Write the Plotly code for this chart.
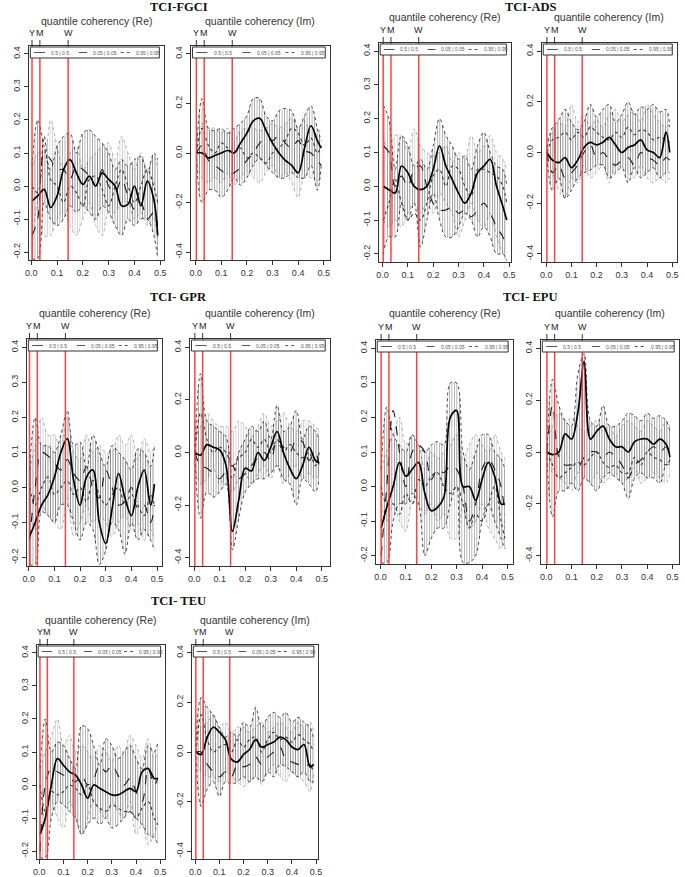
import plotly.graph_objects as go

W, H = 685, 877

# ---------------- data ----------------
freq = [0.003, 0.025, 0.05, 0.075, 0.1, 0.125, 0.15, 0.175, 0.2, 0.225, 0.25,
        0.275, 0.3, 0.325, 0.35, 0.375, 0.4, 0.425, 0.45, 0.475, 0.49]
period_freqs = [1 / 365, 1 / 30, 1 / 7]
period_labels = ["Y", "M", "W"]
quantile_labels = ["0.5 | 0.5", "0.05 | 0.05", "0.95 | 0.95"]
group_titles = ["TCI-FGCI", "TCI-ADS", "TCI- GPR", "TCI- EPU", "TCI- TEU"]
part_titles = ["quantile coherency (Re)", "quantile coherency (Im)"]
x_ticks = [0.0, 0.1, 0.2, 0.3, 0.4, 0.5]
x_ticktext = ["0.0", "0.1", "0.2", "0.3", "0.4", "0.5"]
re_ticks = [-0.2, -0.1, 0.0, 0.1, 0.2, 0.3, 0.4]
re_ticktext = ["-0.2", "-0.1", "0.0", "0.1", "0.2", "0.3", "0.4"]
im_ticks = [-0.4, -0.2, 0.0, 0.2, 0.4]
im_ticktext = ["-0.4", "-0.2", "0.0", "0.2", "0.4"]

# TCI-FGCI
fgci_re_q50 = [-0.045, -0.03, -0.01, -0.065, -0.03, 0.05, 0.08, 0.04, 0.005, 0.03, 0.0, 0.04, 0.02, 0.0, -0.06, -0.055, 0.0, -0.06, 0.015, -0.04, -0.15]
fgci_re_q05 = [-0.15, -0.1, 0.1, 0.08, 0.05, 0.05, 0.02, 0.06, 0.05, 0.03, 0.0, 0.05, 0.0, -0.02, 0.02, -0.03, -0.07, -0.05, -0.1, -0.08, -0.12]
fgci_re_q95 = [0.0, -0.02, 0.15, 0.02, 0.0, -0.05, 0.0, -0.02, -0.06, 0.02, 0.03, -0.01, -0.06, 0.0, 0.05, 0.0, -0.05, 0.0, 0.05, 0.0, -0.05]
fgci_re_dark_hi = [0.06, 0.2, 0.12, 0.05, 0.12, 0.15, 0.16, 0.1, 0.16, 0.17, 0.15, 0.13, 0.1, 0.05, 0.08, 0.06, 0.08, 0.09, 0.04, 0.1, 0.08]
fgci_re_dark_lo = [-0.22, -0.22, -0.05, -0.1, -0.12, -0.1, -0.06, -0.08, -0.06, -0.08, -0.1, -0.06, -0.08, -0.12, -0.15, -0.1, -0.12, -0.1, -0.1, -0.15, -0.22]
fgci_re_light_hi = [0.05, 0.1, 0.1, 0.2, 0.12, 0.05, 0.1, 0.12, 0.05, 0.08, 0.1, 0.12, 0.13, 0.08, 0.15, 0.1, 0.05, 0.1, 0.05, 0.09, 0.05]
fgci_re_light_lo = [-0.2, -0.05, -0.15, -0.15, -0.1, -0.08, -0.12, -0.15, -0.1, -0.05, -0.12, -0.15, -0.08, -0.08, -0.05, -0.05, -0.1, -0.08, -0.12, -0.1, -0.2]

fgci_im_q50 = [0.0, 0.0, -0.02, -0.01, 0.0, 0.01, 0.0, 0.04, 0.08, 0.13, 0.14, 0.09, 0.04, 0.0, -0.03, -0.05, -0.08, 0.02, 0.11, 0.05, 0.02]
fgci_im_q05 = [0.0, 0.03, -0.03, -0.05, -0.07, -0.09, -0.08, -0.06, -0.03, 0.0, 0.04, 0.06, 0.05, 0.07, 0.04, 0.02, 0.05, 0.01, 0.0, -0.03, -0.05]
fgci_im_q95 = [0.0, 0.1, 0.03, 0.0, 0.04, 0.02, 0.0, 0.02, -0.02, 0.0, -0.02, -0.04, 0.0, 0.02, 0.05, 0.1, 0.08, 0.03, 0.06, 0.0, 0.03]
fgci_im_dark_hi = [0.02, 0.22, 0.1, 0.09, 0.1, 0.08, 0.1, 0.12, 0.15, 0.22, 0.22, 0.15, 0.13, 0.17, 0.18, 0.17, 0.1, 0.15, 0.19, 0.1, 0.05]
fgci_im_dark_lo = [-0.02, -0.2, -0.15, -0.15, -0.18, -0.15, -0.1, -0.13, -0.1, -0.05, -0.02, -0.05, -0.08, -0.1, -0.1, -0.08, -0.1, -0.1, -0.05, -0.15, -0.05]
fgci_im_light_hi = [0.05, 0.12, 0.1, 0.1, 0.08, 0.1, 0.05, 0.09, 0.1, 0.1, 0.09, 0.1, 0.12, 0.1, 0.12, 0.14, 0.1, 0.13, 0.08, 0.08, 0.1]
fgci_im_light_lo = [-0.05, -0.1, -0.12, -0.1, -0.12, -0.08, -0.13, -0.1, -0.08, -0.1, -0.12, -0.08, -0.05, -0.1, -0.08, -0.12, -0.18, -0.1, -0.1, -0.12, -0.06]

# TCI-ADS
ads_re_q50 = [0.0, -0.01, -0.02, 0.06, 0.04, 0.0, -0.01, 0.0, 0.05, 0.12, 0.06, 0.02, -0.02, -0.05, -0.02, 0.04, 0.06, 0.08, 0.0, -0.06, -0.1]
ads_re_q05 = [0.12, 0.1, 0.0, 0.03, 0.0, 0.05, 0.06, 0.0, -0.05, -0.07, -0.07, -0.06, -0.08, -0.07, -0.09, -0.07, -0.05, -0.08, -0.12, -0.15, -0.18]
ads_re_q95 = [-0.1, -0.05, 0.02, -0.05, -0.1, -0.08, -0.1, -0.05, 0.03, 0.05, 0.0, 0.06, 0.05, 0.0, -0.03, 0.05, 0.05, 0.04, 0.03, 0.0, -0.05]
ads_re_dark_hi = [0.24, 0.2, 0.05, 0.15, 0.12, 0.06, 0.08, 0.05, 0.12, 0.2, 0.15, 0.12, 0.08, 0.09, 0.05, 0.12, 0.16, 0.1, 0.06, 0.05, 0.0]
ads_re_dark_lo = [-0.2, -0.15, -0.15, -0.05, -0.1, -0.05, -0.18, -0.1, -0.02, -0.1, -0.15, -0.15, -0.12, -0.08, -0.1, -0.15, -0.12, -0.15, -0.2, -0.2, -0.22]
ads_re_light_hi = [0.15, 0.1, 0.15, 0.15, 0.1, 0.17, 0.12, 0.1, 0.09, 0.1, 0.12, 0.07, 0.1, 0.08, 0.15, 0.1, 0.12, 0.15, 0.1, 0.08, 0.05]
ads_re_light_lo = [-0.1, -0.12, -0.1, -0.12, -0.08, -0.05, -0.08, -0.05, -0.08, -0.02, -0.05, -0.08, -0.15, -0.1, -0.05, -0.1, -0.12, -0.08, -0.15, -0.2, -0.22]

ads_im_q50 = [0.0, -0.03, -0.04, -0.02, -0.06, -0.03, 0.02, 0.04, 0.03, 0.04, 0.06, 0.03, 0.0, 0.02, 0.03, 0.05, 0.01, 0.0, -0.02, 0.08, 0.0]
ads_im_q05 = [0.0, -0.08, -0.05, -0.1, -0.08, -0.05, 0.0, 0.03, -0.02, 0.0, -0.03, -0.05, -0.03, -0.02, -0.05, 0.0, -0.02, -0.03, -0.05, -0.02, -0.03]
ads_im_q95 = [0.0, 0.05, 0.06, 0.08, 0.05, 0.08, 0.06, 0.1, 0.08, 0.06, 0.05, 0.08, 0.06, 0.1, 0.07, 0.09, 0.08, 0.05, 0.06, 0.05, 0.04]
ads_im_dark_hi = [0.02, 0.1, 0.13, 0.17, 0.12, 0.09, 0.12, 0.19, 0.14, 0.17, 0.19, 0.12, 0.15, 0.2, 0.15, 0.18, 0.17, 0.19, 0.16, 0.17, 0.1]
ads_im_dark_lo = [-0.02, -0.15, -0.1, -0.18, -0.15, -0.1, -0.08, -0.07, -0.05, -0.05, -0.1, -0.08, -0.06, -0.12, -0.06, -0.1, -0.08, -0.06, -0.1, -0.08, -0.08]
ads_im_light_hi = [0.05, 0.08, 0.12, 0.1, 0.19, 0.12, 0.15, 0.1, 0.13, 0.1, 0.15, 0.17, 0.12, 0.15, 0.16, 0.12, 0.19, 0.15, 0.12, 0.1, 0.12]
ads_im_light_lo = [-0.05, -0.08, -0.15, -0.18, -0.1, -0.12, -0.05, -0.1, -0.08, -0.05, -0.12, -0.05, -0.06, -0.08, -0.1, -0.05, -0.1, -0.12, -0.1, -0.12, -0.1]

# TCI- GPR
gpr_re_q50 = [-0.14, -0.1, -0.05, -0.02, 0.03, 0.1, 0.14, 0.02, -0.05, 0.03, 0.05, -0.1, -0.16, -0.06, 0.04, -0.03, -0.08, 0.0, 0.05, -0.05, 0.01]
gpr_re_q05 = [-0.15, 0.0, 0.1, 0.09, 0.07, 0.05, 0.08, 0.04, 0.02, 0.06, 0.0, -0.03, 0.05, 0.0, -0.05, -0.04, 0.0, -0.06, -0.05, -0.1, -0.05]
gpr_re_q95 = [0.0, -0.05, 0.0, 0.03, -0.02, 0.0, 0.02, -0.02, 0.0, -0.04, 0.02, -0.02, -0.05, -0.02, 0.0, -0.05, -0.02, -0.05, -0.08, -0.02, -0.05]
gpr_re_dark_hi = [0.05, 0.2, 0.12, 0.12, 0.1, 0.15, 0.22, 0.12, 0.13, 0.05, 0.15, 0.1, 0.06, 0.12, 0.1, 0.08, 0.05, 0.11, 0.1, 0.06, 0.12]
gpr_re_dark_lo = [-0.22, -0.22, -0.07, -0.08, -0.1, -0.05, -0.05, -0.1, -0.15, -0.1, -0.12, -0.22, -0.18, -0.1, -0.12, -0.19, -0.1, -0.15, -0.12, -0.15, -0.18]
gpr_re_light_hi = [0.05, 0.12, 0.2, 0.15, 0.15, 0.1, 0.2, 0.1, 0.08, 0.15, 0.1, 0.12, 0.1, 0.1, 0.15, 0.12, 0.15, 0.08, 0.14, 0.1, 0.12]
gpr_re_light_lo = [-0.05, -0.12, -0.05, -0.08, -0.1, -0.12, -0.03, -0.14, -0.1, -0.05, -0.1, -0.08, -0.1, -0.14, -0.1, -0.08, -0.12, -0.1, -0.15, -0.12, -0.15]

gpr_im_q50 = [0.0, -0.01, 0.03, 0.02, 0.01, -0.05, -0.3, -0.18, -0.06, -0.07, 0.0, -0.03, 0.02, 0.08, 0.0, -0.06, -0.1, -0.05, 0.02, -0.03, -0.04]
gpr_im_q05 = [0.0, -0.05, -0.06, -0.08, -0.1, -0.07, -0.05, -0.1, -0.08, -0.05, -0.02, 0.0, -0.03, 0.05, 0.02, 0.0, 0.05, 0.04, -0.03, 0.0, -0.05]
gpr_im_q95 = [0.0, 0.15, 0.05, 0.0, 0.02, 0.0, -0.05, -0.02, 0.0, 0.05, 0.02, 0.05, 0.0, 0.05, 0.0, 0.03, 0.0, -0.02, 0.0, -0.05, 0.0]
gpr_im_dark_hi = [0.02, 0.3, 0.12, 0.1, 0.08, 0.06, -0.1, 0.0, 0.05, 0.1, 0.08, 0.12, 0.05, 0.18, 0.08, 0.1, 0.16, 0.05, 0.1, 0.08, 0.05]
gpr_im_dark_lo = [-0.02, -0.25, -0.15, -0.17, -0.15, -0.12, -0.37, -0.25, -0.15, -0.12, -0.1, -0.1, -0.08, -0.05, -0.1, -0.12, -0.2, -0.1, -0.12, -0.15, -0.1]
gpr_im_light_hi = [0.05, 0.1, 0.15, 0.12, 0.1, 0.1, 0.08, 0.12, 0.1, 0.06, 0.1, 0.15, 0.1, 0.12, 0.15, 0.1, 0.08, 0.12, 0.12, 0.1, 0.08]
gpr_im_light_lo = [-0.05, -0.12, -0.1, -0.06, -0.12, -0.1, -0.15, -0.1, -0.08, -0.12, -0.08, -0.05, -0.1, -0.05, -0.12, -0.08, -0.05, -0.1, -0.08, -0.1, -0.08]

# TCI- EPU
epu_re_q50 = [-0.12, -0.06, 0.0, 0.07, 0.03, 0.05, 0.07, -0.02, -0.07, -0.06, -0.03, 0.2, 0.22, 0.0, 0.0, -0.04, 0.02, 0.07, 0.03, -0.05, -0.05]
epu_re_q05 = [-0.2, 0.0, 0.22, 0.1, 0.0, 0.1, 0.12, 0.1, 0.02, 0.05, 0.04, 0.06, 0.05, 0.0, -0.1, -0.05, 0.05, 0.08, 0.05, 0.0, -0.08]
epu_re_q95 = [0.0, -0.05, -0.05, -0.08, -0.02, -0.05, 0.02, 0.0, 0.03, 0.04, 0.0, -0.02, 0.0, -0.05, -0.12, -0.08, -0.1, -0.05, 0.0, -0.1, -0.15]
epu_re_dark_hi = [0.05, 0.23, 0.15, 0.12, 0.1, 0.15, 0.12, 0.1, 0.12, 0.13, 0.12, 0.3, 0.3, 0.1, 0.05, 0.1, 0.15, 0.15, 0.1, 0.08, 0.05]
epu_re_dark_lo = [-0.22, -0.22, -0.1, -0.05, -0.05, -0.02, -0.05, -0.2, -0.15, -0.12, -0.12, -0.05, 0.0, -0.22, -0.22, -0.2, -0.1, -0.05, -0.1, -0.15, -0.18]
epu_re_light_hi = [0.05, 0.1, 0.15, 0.2, 0.12, 0.15, 0.12, 0.05, 0.1, 0.08, 0.1, 0.12, 0.15, 0.08, 0.12, 0.15, 0.12, 0.1, 0.15, 0.1, 0.08]
epu_re_light_lo = [-0.05, -0.1, -0.05, -0.1, -0.13, -0.05, -0.05, -0.08, -0.05, -0.1, -0.08, -0.15, -0.15, -0.05, -0.12, -0.1, -0.05, -0.12, -0.15, -0.18, -0.1]

epu_im_q50 = [0.0, -0.01, 0.0, 0.07, 0.05, 0.15, 0.35, 0.05, 0.08, 0.1, 0.05, 0.02, 0.02, 0.0, 0.04, 0.05, 0.05, 0.03, 0.05, 0.03, -0.02]
epu_im_q05 = [0.0, 0.18, -0.02, -0.05, -0.05, -0.06, -0.02, 0.0, 0.0, -0.02, 0.0, -0.02, -0.05, -0.1, -0.05, -0.03, 0.0, 0.02, 0.0, 0.02, 0.0]
epu_im_q95 = [0.0, -0.05, -0.1, -0.08, -0.06, -0.04, -0.05, -0.02, 0.0, -0.04, -0.06, -0.05, -0.08, -0.08, -0.02, -0.05, 0.0, -0.02, -0.03, -0.05, -0.03]
epu_im_dark_hi = [0.02, 0.28, 0.18, 0.12, 0.1, 0.3, 0.38, 0.12, 0.1, 0.18, 0.1, 0.1, 0.12, 0.15, 0.14, 0.12, 0.15, 0.13, 0.14, 0.12, 0.08]
epu_im_dark_lo = [-0.02, -0.25, -0.15, -0.15, -0.12, -0.15, -0.1, -0.12, -0.15, -0.1, -0.08, -0.1, -0.12, -0.18, -0.1, -0.08, -0.1, -0.1, -0.12, -0.05, -0.05]
epu_im_light_hi = [0.05, 0.1, 0.15, 0.12, 0.13, 0.1, 0.08, 0.1, 0.12, 0.08, 0.1, 0.06, 0.1, 0.12, 0.1, 0.08, 0.12, 0.1, 0.08, 0.12, 0.1]
epu_im_light_lo = [-0.05, -0.08, -0.1, -0.12, -0.15, -0.08, -0.1, -0.12, -0.08, -0.12, -0.1, -0.08, -0.12, -0.1, -0.06, -0.12, -0.1, -0.08, -0.1, -0.12, -0.08]

# TCI- TEU
teu_re_q50 = [-0.15, -0.1, 0.0, 0.08, 0.06, 0.04, 0.03, 0.0, -0.04, 0.0, -0.01, -0.02, -0.03, -0.03, -0.02, -0.01, -0.02, 0.04, 0.05, 0.02, 0.02]
teu_re_q05 = [-0.2, 0.0, 0.05, 0.04, 0.03, 0.02, 0.01, 0.03, 0.0, 0.02, 0.06, 0.04, 0.06, 0.03, 0.0, 0.02, -0.02, -0.05, 0.05, 0.0, 0.02]
teu_re_q95 = [0.0, -0.08, -0.02, -0.03, -0.02, 0.0, -0.01, -0.03, 0.0, -0.05, -0.07, -0.08, -0.06, -0.07, -0.08, -0.08, -0.1, -0.07, -0.05, -0.1, -0.12]
teu_re_dark_hi = [0.05, 0.2, 0.1, 0.13, 0.12, 0.08, 0.05, 0.18, 0.17, 0.12, 0.06, 0.14, 0.12, 0.08, 0.1, 0.12, 0.08, 0.05, 0.12, 0.1, 0.13]
teu_re_dark_lo = [-0.22, -0.22, -0.1, -0.05, -0.06, -0.08, -0.1, -0.15, -0.12, -0.1, -0.12, -0.1, -0.13, -0.12, -0.1, -0.08, -0.1, -0.12, -0.15, -0.16, -0.18]
teu_re_light_hi = [0.05, 0.1, 0.15, 0.2, 0.12, 0.15, 0.1, 0.12, 0.1, 0.08, 0.12, 0.1, 0.07, 0.12, 0.1, 0.15, 0.12, 0.08, 0.14, 0.08, 0.1]
teu_re_light_lo = [-0.05, -0.1, -0.05, -0.1, -0.13, -0.05, -0.1, -0.15, -0.1, -0.05, -0.08, -0.1, -0.05, -0.08, -0.1, -0.05, -0.15, -0.12, -0.18, -0.15, -0.1]

teu_im_q50 = [0.0, -0.01, 0.06, 0.1, 0.08, 0.05, -0.03, -0.04, -0.01, 0.01, 0.05, 0.02, 0.03, 0.04, 0.06, 0.05, 0.02, 0.01, 0.03, -0.06, -0.05]
teu_im_q05 = [0.0, 0.0, -0.05, -0.08, -0.1, -0.08, -0.1, -0.05, -0.06, -0.05, -0.02, -0.05, -0.02, 0.0, 0.02, -0.03, -0.04, -0.05, -0.06, -0.05, -0.1]
teu_im_q95 = [0.0, 0.15, 0.05, 0.0, 0.02, 0.03, 0.0, 0.05, 0.02, 0.05, 0.06, 0.0, 0.05, 0.08, 0.05, 0.06, 0.04, 0.07, 0.05, 0.03, 0.0]
teu_im_dark_hi = [0.02, 0.22, 0.18, 0.15, 0.1, 0.06, 0.08, 0.06, 0.12, 0.1, 0.18, 0.1, 0.14, 0.16, 0.14, 0.16, 0.12, 0.14, 0.12, 0.1, 0.05]
teu_im_dark_lo = [-0.02, -0.22, -0.15, -0.12, -0.18, -0.12, -0.13, -0.12, -0.1, -0.12, -0.1, -0.12, -0.08, -0.1, -0.05, -0.06, -0.08, -0.1, -0.08, -0.12, -0.12]
teu_im_light_hi = [0.05, 0.1, 0.12, 0.15, 0.1, 0.12, 0.08, 0.1, 0.1, 0.08, 0.1, 0.12, 0.08, 0.1, 0.12, 0.1, 0.08, 0.12, 0.1, 0.12, 0.08]
teu_im_light_lo = [-0.05, -0.08, -0.1, -0.1, -0.12, -0.08, -0.1, -0.12, -0.14, -0.12, -0.1, -0.13, -0.08, -0.05, -0.1, -0.12, -0.08, -0.1, -0.12, -0.16, -0.08]

# ---------------- layout geometry (pixels) ----------------
# box = (left, right, top, bottom) of the plot frame; xr = visible frequency range
panels = [
    dict(g=0, part=0, box=(25, 162, 46, 260), sub_y=21, xr=(-0.010, 0.515),
         d=(fgci_re_q50, fgci_re_q05, fgci_re_q95, fgci_re_dark_hi, fgci_re_dark_lo, fgci_re_light_hi, fgci_re_light_lo)),
    dict(g=0, part=1, box=(189, 330, 46, 260), sub_y=21, xr=(-0.019, 0.525),
         d=(fgci_im_q50, fgci_im_q05, fgci_im_q95, fgci_im_dark_hi, fgci_im_dark_lo, fgci_im_light_hi, fgci_im_light_lo)),
    dict(g=1, part=0, box=(379, 513, 43, 262), sub_y=17, xr=(-0.0155, 0.507),
         d=(ads_re_q50, ads_re_q05, ads_re_q95, ads_re_dark_hi, ads_re_dark_lo, ads_re_light_hi, ads_re_light_lo)),
    dict(g=1, part=1, box=(544, 681, 43, 262), sub_y=17, xr=(-0.018, 0.519),
         d=(ads_im_q50, ads_im_q05, ads_im_q95, ads_im_dark_hi, ads_im_dark_lo, ads_im_light_hi, ads_im_light_lo)),
    dict(g=2, part=0, box=(23, 160, 339, 566), sub_y=313, xr=(-0.008, 0.52),
         d=(gpr_re_q50, gpr_re_q05, gpr_re_q95, gpr_re_dark_hi, gpr_re_dark_lo, gpr_re_light_hi, gpr_re_light_lo)),
    dict(g=2, part=1, box=(188, 330, 339, 566), sub_y=313, xr=(-0.017, 0.533),
         d=(gpr_im_q50, gpr_im_q05, gpr_im_q95, gpr_im_dark_hi, gpr_im_dark_lo, gpr_im_light_hi, gpr_im_light_lo)),
    dict(g=3, part=0, box=(376, 515, 340, 564), sub_y=313, xr=(-0.019, 0.522),
         d=(epu_re_q50, epu_re_q05, epu_re_q95, epu_re_dark_hi, epu_re_dark_lo, epu_re_light_hi, epu_re_light_lo)),
    dict(g=3, part=1, box=(543, 683, 340, 564), sub_y=313, xr=(-0.022, 0.526),
         d=(epu_im_q50, epu_im_q05, epu_im_q95, epu_im_dark_hi, epu_im_dark_lo, epu_im_light_hi, epu_im_light_lo)),
    dict(g=4, part=0, box=(33, 163, 645, 859), sub_y=620, xr=(-0.011, 0.52),
         d=(teu_re_q50, teu_re_q05, teu_re_q95, teu_re_dark_hi, teu_re_dark_lo, teu_re_light_hi, teu_re_light_lo)),
    dict(g=4, part=1, box=(190, 318, 645, 859), sub_y=620, xr=(-0.014, 0.509),
         d=(teu_im_q50, teu_im_q05, teu_im_q95, teu_im_dark_hi, teu_im_dark_lo, teu_im_light_hi, teu_im_light_lo)),
]
group_pos = [(177, 7.5), (533, 7.5), (177, 297), (533, 297), (177, 601)]

fig = go.Figure()
layout = dict(width=W, height=H, margin=dict(l=0, r=0, t=0, b=0),
              paper_bgcolor="white", plot_bgcolor="white", showlegend=False)
shapes, annotations = [], []

AX_COL = "#333333"
SANS = "Liberation Sans, Arial, sans-serif"
TICK_FONT = dict(family=SANS, size=9, color="#333333")

for i, p in enumerate(panels, start=1):
    xn, yn = ("x", "y") if i == 1 else (f"x{i}", f"y{i}")
    xk, yk = ("xaxis", "yaxis") if i == 1 else (f"xaxis{i}", f"yaxis{i}")
    l, r, t, b = p["box"]
    hpx = b - t
    is_re = p["part"] == 0
    yr = [-0.224, 0.424] if is_re else [-0.432, 0.432]
    layout[xk] = dict(domain=[l / W, r / W], range=list(p["xr"]), anchor=yn,
                      tickvals=x_ticks, ticktext=x_ticktext, ticks="outside", ticklen=4,
                      tickcolor=AX_COL, showline=True, mirror=True, linecolor=AX_COL,
                      linewidth=1, showgrid=False, zeroline=False, tickfont=TICK_FONT)
    layout[yk] = dict(domain=[1 - b / H, 1 - t / H], range=yr, anchor=xn,
                      tickvals=re_ticks if is_re else im_ticks,
                      ticktext=re_ticktext if is_re else im_ticktext,
                      tickangle=-90, ticks="outside", ticklen=4, tickcolor=AX_COL,
                      showline=True, mirror=True, linecolor=AX_COL, linewidth=1,
                      showgrid=False, zeroline=False, tickfont=TICK_FONT)

    q50, q05, q95, dhi, dlo, lhi, llo = p["d"]
    common = dict(x=freq, xaxis=xn, yaxis=yn, mode="lines", hoverinfo="skip",
                  line_shape="spline")
    # light band (0.95 | 0.95)
    fig.add_trace(go.Scatter(y=llo, line=dict(color="#a0a0a0", width=0.8, dash="dot"), **common))
    fig.add_trace(go.Scatter(y=lhi, line=dict(color="#a0a0a0", width=0.8, dash="dot"),
                             fill="tonexty", fillcolor="rgba(0,0,0,0)",
                             fillpattern=dict(shape="|", fgcolor="rgba(140,140,140,0.8)",
                                              bgcolor="rgba(0,0,0,0)", size=2.5, solidity=0.35),
                             **common))
    # dark band (0.05 | 0.05)
    fig.add_trace(go.Scatter(y=dlo, line=dict(color="#1a1a1a", width=0.8, dash="dot"), **common))
    fig.add_trace(go.Scatter(y=dhi, line=dict(color="#1a1a1a", width=0.8, dash="dot"),
                             fill="tonexty", fillcolor="rgba(0,0,0,0)",
                             fillpattern=dict(shape="|", fgcolor="rgba(10,10,10,0.75)",
                                              bgcolor="rgba(0,0,0,0)", size=2.5, solidity=0.32),
                             **common))
    # estimates
    fig.add_trace(go.Scatter(y=q95, line=dict(color="#333333", width=1.1, dash="dot"), **common))
    fig.add_trace(go.Scatter(y=q05, line=dict(color="#1a1a1a", width=1.1, dash="dash"), **common))
    fig.add_trace(go.Scatter(y=q50, line=dict(color="#000000", width=1.7), **common))

    # red period lines and top Y/M/W ticks
    for f, lab in zip(period_freqs, period_labels):
        shapes.append(dict(type="line", xref=xn, yref=f"{yn} domain", x0=f, x1=f, y0=0, y1=1,
                           line=dict(color="rgba(255,45,45,0.9)", width=1.5), layer="above"))
        shapes.append(dict(type="line", xref=xn, yref=f"{yn} domain", x0=f, x1=f, y0=1,
                           y1=1 + 6 / hpx, line=dict(color=AX_COL, width=1)))
        annotations.append(dict(text=lab, xref=xn, yref=f"{yn} domain", x=f, y=1 + 13 / hpx,
                                showarrow=False, xanchor="center", yanchor="middle",
                                font=dict(family=SANS, size=9, color="#222222")))

    # legend box
    ly0, ly1 = 1 - 12 / hpx, 1 - 1 / hpx
    lym = (ly0 + ly1) / 2
    shapes.append(dict(type="rect", xref=f"{xn} domain", yref=f"{yn} domain",
                       x0=0.012, x1=0.965, y0=ly0, y1=ly1, fillcolor="white",
                       line=dict(color="#333333", width=1), layer="above"))
    seg = [(0.04, 0.12, "solid"), (0.37, 0.43, "dash"), (0.68, 0.75, "dot")]
    txt_x = [0.15, 0.46, 0.78]
    for (s0, s1, dsh), tx, lab in zip(seg, txt_x, quantile_labels):
        shapes.append(dict(type="line", xref=f"{xn} domain", yref=f"{yn} domain",
                           x0=s0, x1=s1, y0=lym, y1=lym,
                           line=dict(color="#555555", width=1, dash=dsh), layer="above"))
        annotations.append(dict(text=lab, xref=f"{xn} domain", yref=f"{yn} domain",
                                x=tx, y=lym, xanchor="left", yanchor="middle", showarrow=False,
                                font=dict(family=SANS, size=5, color="#555555")))

    # subtitle
    annotations.append(dict(text=part_titles[p["part"]], xref="paper", yref="paper",
                            x=(l + r) / 2 / W, y=1 - p["sub_y"] / H, showarrow=False,
                            xanchor="center", yanchor="middle",
                            font=dict(family=SANS, size=10.5, color="#333333")))

for gt, (gx, gy) in zip(group_titles, group_pos):
    annotations.append(dict(text=f"<b>{gt}</b>", xref="paper", yref="paper", x=gx / W,
                            y=1 - gy / H, showarrow=False, xanchor="center", yanchor="middle",
                            font=dict(family="Liberation Serif, Times New Roman, serif",
                                      size=12.5, color="#111111")))

layout["shapes"] = shapes
layout["annotations"] = annotations
fig.update_layout(**layout)
fig.write_html("out.html", config={"displayModeBar": False},
               post_script="document.body.style.margin='0';document.body.style.overflow='hidden';")
